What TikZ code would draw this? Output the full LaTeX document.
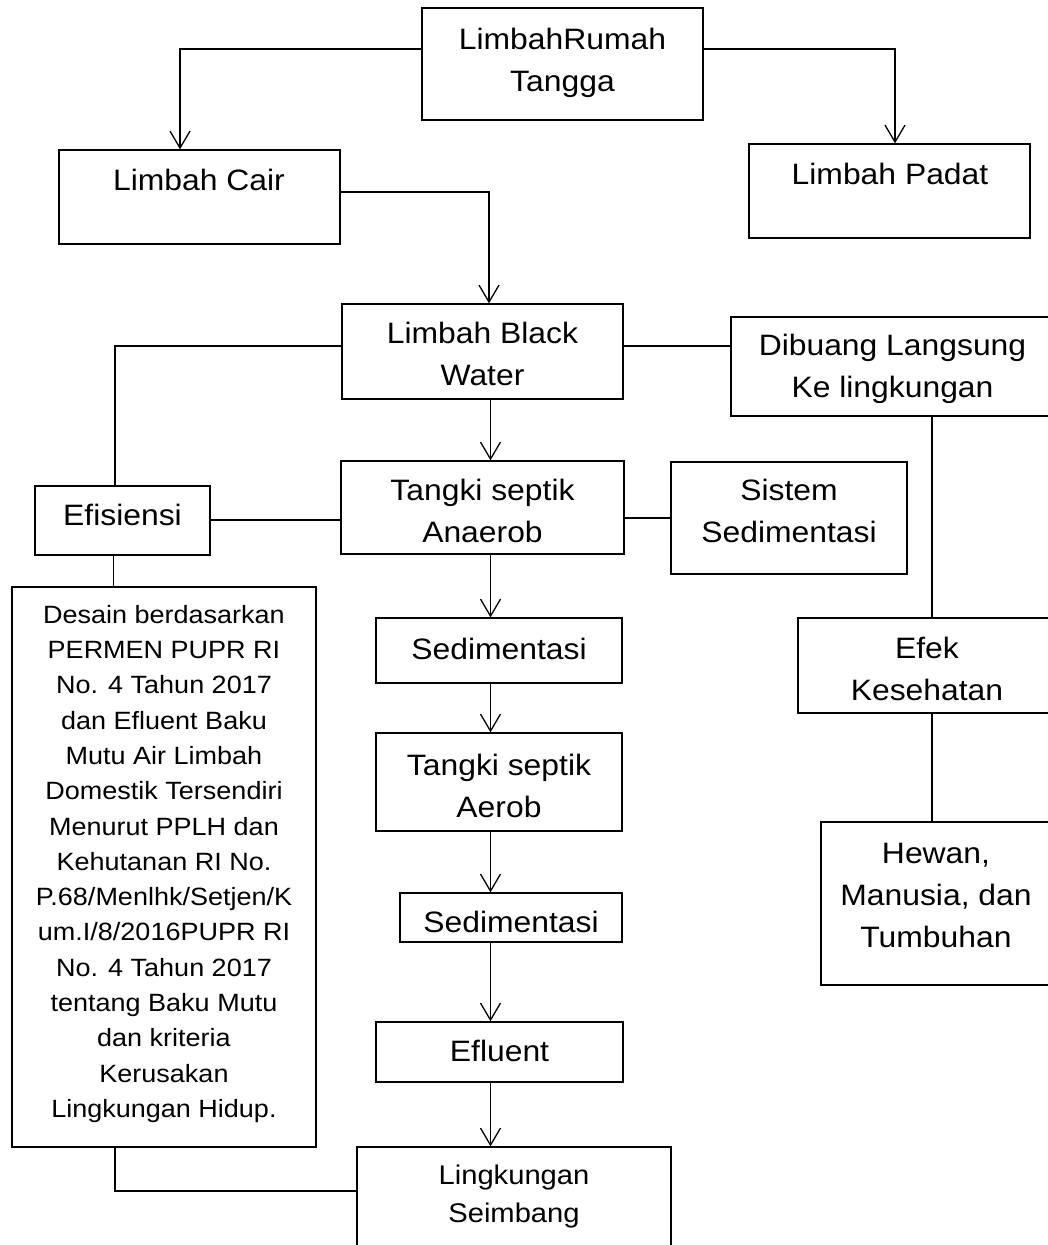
\documentclass[tikz,border=0pt]{standalone}
\usepackage{fontspec}
\setmainfont[FakeStretch=1.08]{Liberation Sans}
\usetikzlibrary{arrows.meta}
\begin{document}
\begin{tikzpicture}[x=1pt,y=-1pt,
  box/.style={draw=black, line width=1.3pt, inner sep=0pt, fill=white},
  txt/.style={inner sep=0pt, align=center, font=\fontsize{29.5}{42}\selectfont},
  txtsmall/.style={inner sep=0pt, align=center, font=\fontsize{25}{35.3}\selectfont},
  txtmid/.style={inner sep=0pt, align=center, font=\fontsize{27}{38.3}\selectfont},
  ln/.style={draw=black, line width=1.3pt},
  arr/.style={ln, -{Straight Barb[length=17pt,width=20pt,line width=1.3pt]}}]
\path[use as bounding box, fill=white] (0,0) rectangle (1047,1245);

% boxes
\node[box, minimum width=281pt, minimum height=112pt] (top) at (562.5,64) {};
\node[box, minimum width=281pt, minimum height=94pt] (cair) at (199.5,197) {};
\node[box, minimum width=281pt, minimum height=94pt] (padat) at (889.5,191) {};
\node[box, minimum width=281pt, minimum height=95pt] (bw) at (482.5,351.5) {};
\node[box, minimum width=323pt, minimum height=99pt] (dibuang) at (892.5,366.5) {};
\node[box, minimum width=283pt, minimum height=93pt] (anaerob) at (482.5,507.5) {};
\node[box, minimum width=175pt, minimum height=69pt] (efisiensi) at (122.5,520.5) {};
\node[box, minimum width=236pt, minimum height=112pt] (sistem) at (789,518) {};
\node[box, minimum width=304pt, minimum height=560pt] (desain) at (164,867) {};
\node[box, minimum width=246pt, minimum height=65pt] (sedA) at (499,650.5) {};
\node[box, minimum width=246pt, minimum height=98pt] (aerob) at (499,782) {};
\node[box, minimum width=222pt, minimum height=49pt] (sedB) at (511,917.5) {};
\node[box, minimum width=247pt, minimum height=60pt] (efluent) at (499.5,1052) {};
\node[box, minimum width=314pt, minimum height=113pt] (ling) at (514,1203.5) {};
\node[box, minimum width=258pt, minimum height=95pt] (efek) at (927,665.5) {};
\node[box, minimum width=230pt, minimum height=163pt] (hewan) at (936,903.5) {};

% texts
\node[txt] (ttop) at (562.5,61.6) {\strut LimbahRumah\\\strut Tangga};
\node[txt] (tcair) at (199,182.3) {\strut Limbah Cair};
\node[txt] (tpadat) at (890,175.9) {\strut Limbah Padat};
\node[txt] (tbw) at (482.5,355.9) {\strut Limbah Black\\\strut Water};
\node[txt] (tdibuang) at (892.5,368.3) {\strut Dibuang Langsung\\\strut Ke lingkungan};
\node[txt] (tanaerob) at (482.5,513.3) {\strut Tangki septik\\\strut Anaerob};
\node[txt] (tefisiensi) at (122.5,516.6) {\strut Efisiensi};
\node[txt] (tsistem) at (789,513.3) {\strut Sistem\\\strut Sedimentasi};
\node[txt] (tsedA) at (499,650.9) {\strut Sedimentasi};
\node[txt] (taerob) at (499,787.6) {\strut Tangki septik\\\strut Aerob};
\node[txt] (tsedB) at (511,924.3) {\strut Sedimentasi};
\node[txt] (tefluent) at (499.5,1053.3) {\strut Efluent};
\node[txt] (tefek) at (927,670.9) {\strut Efek\\\strut Kesehatan};
\node[txt] (thewan) at (936,896.9) {\strut Hewan,\\\strut Manusia, dan\\\strut Tumbuhan};
\node[txtsmall] (tdesain) at (164,863.3) {\strut Desain berdasarkan\\\strut PERMEN PUPR RI\\\strut No. 4 Tahun 2017\\\strut dan Efluent Baku\\\strut Mutu Air Limbah\\\strut Domestik Tersendiri\\\strut Menurut PPLH dan\\\strut Kehutanan RI No.\\\strut P.68/Menlhk/Setjen/K\\\strut um.I/8/2016PUPR RI\\\strut No. 4 Tahun 2017\\\strut tentang Baku Mutu\\\strut dan kriteria\\\strut Kerusakan\\\strut Lingkungan Hidup.};
\node[txtmid] (tling) at (514,1195.5) {\strut Lingkungan\\\strut Seimbang};

% bend coordinates
\coordinate (c1) at (180,49);
\coordinate (c2) at (895,49);
\coordinate (c3) at (489,192);
\coordinate (c4) at (490.5,0);
\coordinate (c5) at (115,346);
\coordinate (c6) at (0,520);
\coordinate (c6b) at (0,518);
\coordinate (c7) at (113.5,0);
\coordinate (c8) at (115,1191);
\coordinate (c9) at (932,0);

% connectors
\draw[arr] (top.west |- c1) -| (cair.north -| c1);
\draw[arr] (top.east |- c2) -| (padat.north -| c2);
\draw[arr] (cair.east |- c3) -| (bw.north -| c3);
\draw[arr] (bw.south -| c4) -- (anaerob.north -| c4);
\draw[ln] (bw.west |- c5) -| (efisiensi.north -| c5);
\draw[ln] (bw.east |- c5) -- (dibuang.west |- c5);
\draw[ln] (efisiensi.east |- c6) -- (anaerob.west |- c6);
\draw[ln] (anaerob.east |- c6b) -- (sistem.west |- c6b);
\draw[ln] (efisiensi.south -| c7) -- (desain.north -| c7);
\draw[ln] (desain.south -| c8) |- (ling.west |- c8);
\draw[ln] (dibuang.south -| c9) -- (efek.north -| c9);
\draw[ln] (efek.south -| c9) -- (hewan.north -| c9);
\draw[arr] (anaerob.south -| c4) -- (sedA.north -| c4);
\draw[arr] (sedA.south -| c4) -- (aerob.north -| c4);
\draw[arr] (aerob.south -| c4) -- (sedB.north -| c4);
\draw[arr] (sedB.south -| c4) -- (efluent.north -| c4);
\draw[arr] (efluent.south -| c4) -- (ling.north -| c4);
\end{tikzpicture}
\end{document}
